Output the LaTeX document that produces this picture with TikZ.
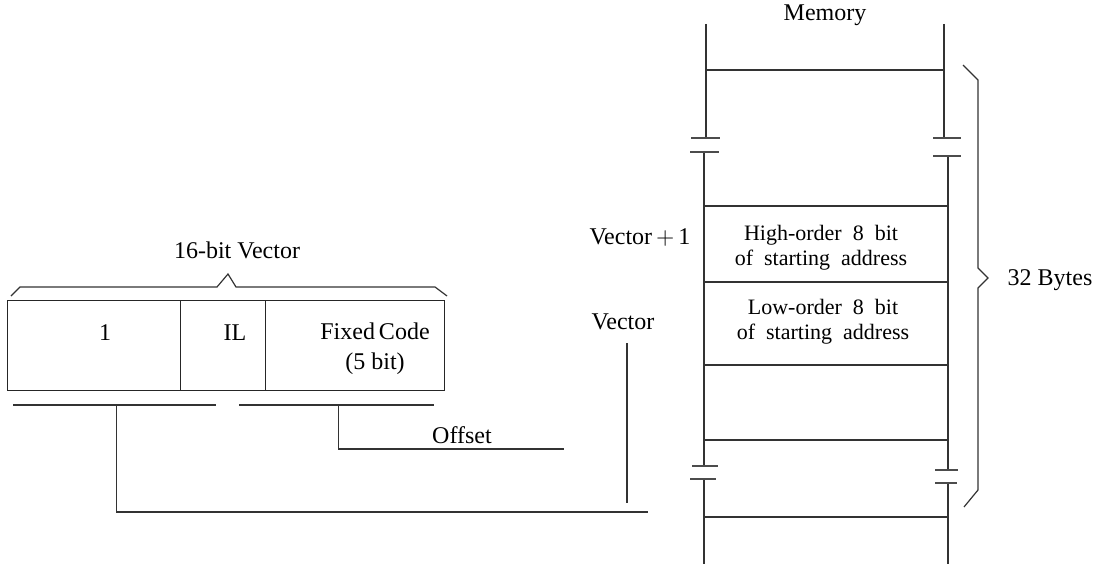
\documentclass[tikz,border=0pt]{standalone}
\usepackage{fontspec}
\setmainfont{Liberation Serif}
\usetikzlibrary{calc}
\tikzset{
	ln/.style={
		draw=black!80,
		line width=0.6pt},
	brk/.style={
		draw=black!70,
		line width=0.7pt},
	lbl/.style={
		inner sep=0pt,
		font=\fontsize{12}{14}\selectfont},
	cell/.style={
		inner sep=0pt,
		align=center,
		font=\fontsize{11}{12.5}\selectfont},
	fld/.style={
		rectangle,
		draw=black!85,
		line width=0.6pt,
		inner sep=0pt,
		anchor=north west,
		minimum height=45pt}
}
\begin{document}
\begin{tikzpicture}[x=0.5pt,y=0.5pt,yscale=-1]
\useasboundingbox (0,0) rectangle (1104,567);

% register fields
\node[fld, minimum width=86.5pt] (fa) at (7,300) {};
\node[fld, minimum width=42.5pt] (fb) at (180,300) {};
\node[fld, minimum width=89.5pt] (fc) at (265,300) {};
\node[lbl] (one) at (105,333) {1};
\node[lbl] (il) at (235,333) {IL};
\node[lbl, align=center] (fix) at (375,349) {Fixed\,Code\\[1pt](5 bit)};

% brace over register
\draw[ln] (11,296) -- (20,287) -- (217,287) -- (228,274) -- (236,287) -- (435,287) -- (447,296);
\node[lbl] (vec16) at (237,250) {16-bit Vector};

% split of the register
\coordinate (hiL) at (13,405);
\coordinate (hiR) at (216,405);
\coordinate (loL) at (239,405);
\coordinate (loR) at (434,405);
\draw[ln] (hiL) -- (hiR);
\draw[ln] (loL) -- (loR);

% memory column
\coordinate (lt) at (706,24);
\coordinate (rt) at (944,24);
\draw[ln] (lt) -- (706,138);
\draw[ln] (rt) -- (944,138);
\draw[ln] (704,152) -- (704,466);
\draw[ln] (948,156) -- (948,470);
\draw[ln] (704,479) -- (704,564);
\draw[ln] (948,483) -- (948,564);
\draw[brk] (691,138) -- (720,138);
\draw[brk] (690,152) -- (719,152);
\draw[brk] (933,138) -- (961,138);
\draw[brk] (933,156) -- (961,156);
\draw[brk] (692,466) -- (718,466);
\draw[brk] (690,479) -- (716,479);
\draw[brk] (935,470) -- (958,470);
\draw[brk] (935,483) -- (957,483);
\foreach \yy/\xa/\xb in {70/706/944, 206/704/948, 282/704/948, 365/704/948, 440/704/948, 517/704/948}
	\draw[ln] (\xa,\yy) -- (\xb,\yy);
\node[lbl] (mem) at (825,15) {Memory};
\node[cell] (high) at (821,248) {High-order\ \ 8\ \ bit\\of\ \ starting\ \ address};
\node[cell] (low) at (823,322) {Low-order\ \ 8\ \ bit\\of\ \ starting\ \ address};
\node[lbl] (vp1) at (640,237) {Vector\,$+$\,1};
\node[lbl] (vec) at (623,322) {Vector};

% brace over the 32 bytes
\draw[ln] (963,65) -- (978,80) -- (978,268) -- (988,278) -- (978,288) -- (978,490) -- (964,507);
\node[lbl] (bytes) at (1050,280) {32 Bytes};

% connectors
\coordinate (hiM) at ($(hiL)!0.5!(hiR)+(2,0)$);
\coordinate (loM) at ($(loL)!0.51!(loR)$);
\coordinate (base) at (648,512);
\coordinate (offE) at (564,449);
\coordinate (vecT) at (627,343);
\coordinate (vecB) at (627,503);
\draw[ln] (hiM) |- (base);
\draw[ln] (loM) |- (offE);
\node[lbl] (off) at (462,435) {Offset};
\draw[ln] (vecT) -- (vecB);
\end{tikzpicture}
\end{document}
